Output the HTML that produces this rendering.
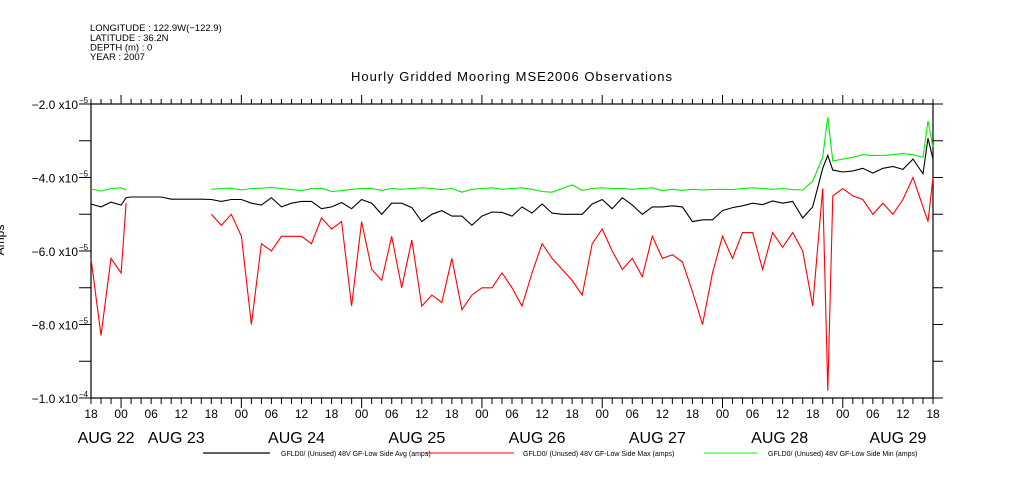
<!DOCTYPE html>
<html><head><meta charset="utf-8"><style>
html,body{margin:0;padding:0;background:#fff;}
svg{display:block;font-family:"Liberation Sans",sans-serif;}
</style></head><body>
<svg id="chart" width="1009" height="504" viewBox="0 0 1009 504" xmlns="http://www.w3.org/2000/svg">
<g font-size="9.5" fill="#000">
<text x="90" y="31">LONGITUDE : 122.9W(−122.9)</text>
<text x="90" y="41">LATITUDE : 36.2N</text>
<text x="90" y="50.5">DEPTH (m) : 0</text>
<text x="90" y="60">YEAR : 2007</text>
</g>
<text x="512" y="81" text-anchor="middle" font-size="13" letter-spacing="1">Hourly Gridded Mooring MSE2006 Observations</text>
<text transform="translate(4,240) rotate(-90)" text-anchor="middle" font-size="12">Amps</text>
<g id="axes"></g>
<g id="series"></g>
<g font-size="7">
<line x1="203" y1="453" x2="270" y2="453" stroke="#000" stroke-width="1.2"/>
<text x="281" y="456">GFLD0/ (Unused) 48V GF-Low Side Avg (amps)</text>
<line x1="425" y1="453" x2="514" y2="453" stroke="#f00" stroke-width="1"/>
<text x="523" y="456">GFLD0/ (Unused) 48V GF-Low Side Max (amps)</text>
<line x1="704" y1="453" x2="757" y2="453" stroke="#0f0" stroke-width="1"/>
<text x="768" y="456">GFLD0/ (Unused) 48V GF-Low Side Min (amps)</text>
</g>
</svg>
<script>
const hours = [0,2,4,6,7,8,10,12,14,16,18,20,22,24,26,28,30,32,34,36,38,40,42,44,46,48,50,52,54,56,58,60,62,64,66,68,70,72,74,76,78,80,82,84,86,88,90,92,94,96,98,100,102,104,106,108,110,112,114,116,118,120,122,124,126,128,130,132,134,136,138,140,142,144,146,147,148,150,152,154,156,158,160,162,164,166,167,168];
const redVals = [-6.2,-8.3,-6.2,-6.6,-4.7,null,null,null,null,null,null,null,null,-5.0,-5.3,-5.0,-5.6,-8.0,-5.8,-6.0,-5.6,-5.6,-5.6,-5.8,-5.1,-5.4,-5.2,-7.5,-5.2,-6.5,-6.8,-5.6,-7.0,-5.7,-7.5,-7.2,-7.4,-6.2,-7.6,-7.2,-7.0,-7.0,-6.6,-7.0,-7.5,-6.6,-5.8,-6.2,-6.5,-6.8,-7.2,-5.8,-5.4,-6.0,-6.5,-6.2,-6.7,-5.6,-6.2,-6.1,-6.3,-7.1,-8.0,-6.6,-5.6,-6.2,-5.5,-5.5,-6.5,-5.5,-5.9,-5.5,-6.0,-7.5,-4.3,-9.8,-4.5,-4.3,-4.5,-4.6,-5.0,-4.7,-5.0,-4.6,-4.0,-4.8,-5.2,-4.0];
const blackVals = [-4.72,-4.8,-4.67,-4.75,-4.55,-4.53,-4.53,-4.53,-4.53,-4.59,-4.59,-4.59,-4.59,-4.6,-4.65,-4.6,-4.6,-4.7,-4.75,-4.55,-4.8,-4.7,-4.65,-4.65,-4.85,-4.8,-4.68,-4.85,-4.6,-4.7,-5.0,-4.7,-4.7,-4.82,-5.2,-5.0,-4.9,-5.05,-5.05,-5.3,-5.05,-4.94,-4.95,-5.05,-4.8,-4.97,-4.72,-4.97,-5.0,-5.0,-5.0,-4.72,-4.6,-4.85,-4.55,-4.75,-5.0,-4.8,-4.8,-4.77,-4.8,-5.2,-5.15,-5.15,-4.9,-4.82,-4.77,-4.7,-4.74,-4.64,-4.7,-4.65,-5.1,-4.8,-3.75,-3.4,-3.8,-3.85,-3.82,-3.75,-3.88,-3.75,-3.7,-3.78,-3.5,-3.9,-2.93,-3.5];
const greenVals = [-4.31,-4.37,-4.3,-4.28,-4.34,null,null,null,null,null,null,null,null,-4.32,-4.3,-4.29,-4.34,-4.3,-4.29,-4.27,-4.3,-4.33,-4.36,-4.3,-4.29,-4.38,-4.36,-4.32,-4.3,-4.3,-4.35,-4.3,-4.32,-4.3,-4.28,-4.3,-4.33,-4.3,-4.4,-4.32,-4.3,-4.28,-4.32,-4.3,-4.28,-4.32,-4.38,-4.4,-4.3,-4.2,-4.35,-4.3,-4.28,-4.3,-4.3,-4.32,-4.3,-4.28,-4.36,-4.32,-4.35,-4.32,-4.34,-4.33,-4.32,-4.33,-4.3,-4.28,-4.3,-4.32,-4.3,-4.33,-4.34,-4.1,-3.45,-2.35,-3.55,-3.5,-3.45,-3.38,-3.4,-3.4,-3.38,-3.35,-3.38,-3.45,-2.46,-3.17];
const yTickVals = [-2,-4,-6,-8,-10];
const yTickText = ["−2.0","−4.0","−6.0","−8.0","−1.0"];
const yTickExp = ["−5","−5","−5","−5","−4"];
const hourLabels = ["18","00","06","12","18","00","06","12","18","00","06","12","18","00","06","12","18","00","06","12","18","00","06","12","18","00","06","12","18"];
const dateLabels = ["AUG 22","AUG 23","AUG 24","AUG 25","AUG 26","AUG 27","AUG 28","AUG 29"];
const dateHours = [3,17,41,65,89,113,137.4,161];

const NS="http://www.w3.org/2000/svg";
const X0=91,X1=933,Y0=104,Y1=398,HMAX=168;
function xs(h){return X0+(X1-X0)*h/HMAX;}
function ys(v){return Y0+(Y1-Y0)*(-2-v)/8;}
function mk(tag,attrs,parent){const e=document.createElementNS(NS,tag);for(const k in attrs)e.setAttribute(k,attrs[k]);parent.appendChild(e);return e;}
const axes=document.getElementById('axes');
const frame=mk('rect',{x:X0,y:Y0,width:X1-X0,height:Y1-Y0,fill:'none',stroke:'#000','stroke-width':1.2},axes);


for(let i=0;i<=8;i++){const y=Y0+(Y1-Y0)*i/8;
 const t1=mk('line',{x1:X0-12,y1:y,x2:X0,y2:y,stroke:'#000'},axes);
 
 
 const t2=mk('line',{x1:X1,y1:y,x2:X1+10,y2:y,stroke:'#000'},axes);
 
 }
yTickVals.forEach((v,i)=>{const y=ys(v);
 const t=mk('text',{x:78,y:y+5,'text-anchor':'end','font-size':12},axes);
 t.textContent=yTickText[i]+" x10";
 
 
 const s=mk('text',{x:79,y:y-1,'font-size':8},axes);
 s.textContent=yTickExp[i];
 
 });
for(let h=0;h<=HMAX;h+=2){const x=xs(h);const major=(h%24)===6;
 const tb=mk('line',{x1:x,y1:Y1,x2:x,y2:Y1+(major?10:6),stroke:'#000'},axes);
 
 
 const tt=mk('line',{x1:x,y1:Y0,x2:x,y2:Y0-(major?9:5),stroke:'#000'},axes);
 
 }
hourLabels.forEach((l,i)=>{const t=mk('text',{x:xs(i*6),y:418,'text-anchor':'middle','font-size':12},axes);
 t.textContent=l;
 
 });
dateLabels.forEach((l,i)=>{const t=mk('text',{x:xs(dateHours[i]),y:443,'text-anchor':'middle','font-size':16},axes);
 t.textContent=l;
 
 });
const series=document.getElementById('series');
function draw(vals,color,name){let d='';let pen=false;
 vals.forEach((v,i)=>{if(v===null){pen=false;return;}d+=(pen?'L':'M')+xs(hours[i]).toFixed(1)+' '+ys(v).toFixed(1)+' ';pen=true;});
 const p=mk('path',{d:d,fill:'none',stroke:color,'stroke-width':1.1,'stroke-linejoin':'miter'},series);
 
 }
draw(greenVals,'#00ee00','series-min-line');
draw(redVals,'#ff0000','series-max-line');
draw(blackVals,'#000000','series-avg-line');
</script>
</body></html>
